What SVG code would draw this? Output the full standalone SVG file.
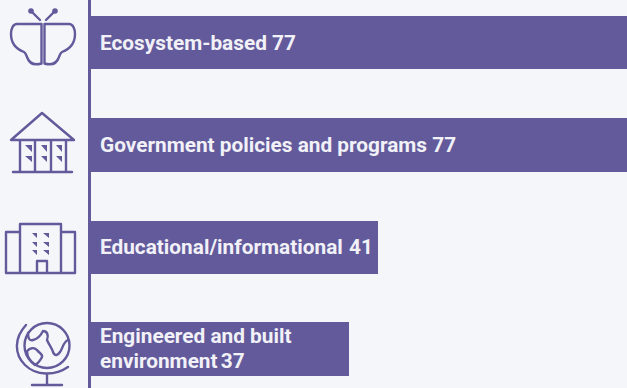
<svg xmlns="http://www.w3.org/2000/svg" width="627" height="388" viewBox="0 0 627 388">
<style>
.bar{fill:#625a9b}
.ln{fill:none;stroke:#625a9b;stroke-width:2.4;stroke-linecap:round;stroke-linejoin:round}
.tr{fill:#625a9b}
text{font-family:Roboto,"Liberation Sans",sans-serif;font-weight:700;font-size:20.8px;fill:#f1f1f7}
</style>
<rect width="627" height="388" fill="#f5f6fa"/>
<g id="connectors"><line x1="89.500" y1="0" x2="89.500" y2="388" stroke="#625a9b" stroke-width="3"/></g>
<g id="node-ecosystem">
<rect class="bar" x="90" y="16" width="537" height="53"/>
<text x="100" y="50">Ecosystem-based 77</text>
<g>
<path class="ln" d="M40 20L32 12M46 20L54 12M41.500 24V63M44.500 24V63M41.500 24H17C13 24 11 29 11 34C11 43 16 49 24 52C26 53 26 55 27 57C29 63 33 66 41.500 63.500M44.500 24H69C73 24 75 29 75 34C75 43 70 49 62 52C60 53 60 55 59 57C57 63 53 66 44.500 63.500"/>
<circle class="tr" cx="31" cy="11" r="2.800"/><circle class="tr" cx="55" cy="11" r="2.800"/>
</g>
</g>
<g id="node-government">
<rect class="bar" x="90" y="118" width="537" height="54"/>
<text x="100" y="152">Government policies and programs 77</text>
<path class="ln" d="M42 113L11 140H74ZM20 140V172M35 140V172M51 140V172M66 140V172M13 172H72"/>
<path class="tr" d="M25 145H32V152ZM25 156H32V162ZM41 145H47V152ZM41 156H47V162ZM56 145H62V152ZM56 156H62V162Z"/>
</g>
<g id="node-educational">
<rect class="bar" x="90" y="221" width="288" height="53"/>
<text x="100" y="254">Educational/informational<tspan dx="1"> 41</tspan></text>
<path class="ln" d="M20 224H61V273H20ZM20 232H6V273H20M61 232H75V273H61M37 273V261H47V273"/>
<path class="tr" d="M32 233H37V238ZM43 233H49V238ZM32 242H37V247ZM43 242H49V247ZM32 250H37V255ZM43 250H49V255Z"/>
</g>
<g id="node-engineered">
<rect class="bar" x="90" y="322" width="259" height="54"/>
<text x="100" y="343">Engineered and built</text>
<text x="100" y="368" word-spacing="-2">environment 37</text>
<circle class="ln" cx="47" cy="345.500" r="22.500"/>
<path class="ln" d="M26 325C14 338 14 354 25 365C36 376 55 376 68 367M47 374V385M32 385H62M28 333C28 338 29 341 33 340C38 339 41 335 43 331C47 331 49 335 47 340C49 345 52 348 53 352C55 357 58 355 60 352C63 348 63 342 68 340M27 351C30 348 34 347 37 350C39 353 43 354 42 357C40 361 37 364 35 365C31 362 27 358 27 351Z"/>
</g>
</svg>
